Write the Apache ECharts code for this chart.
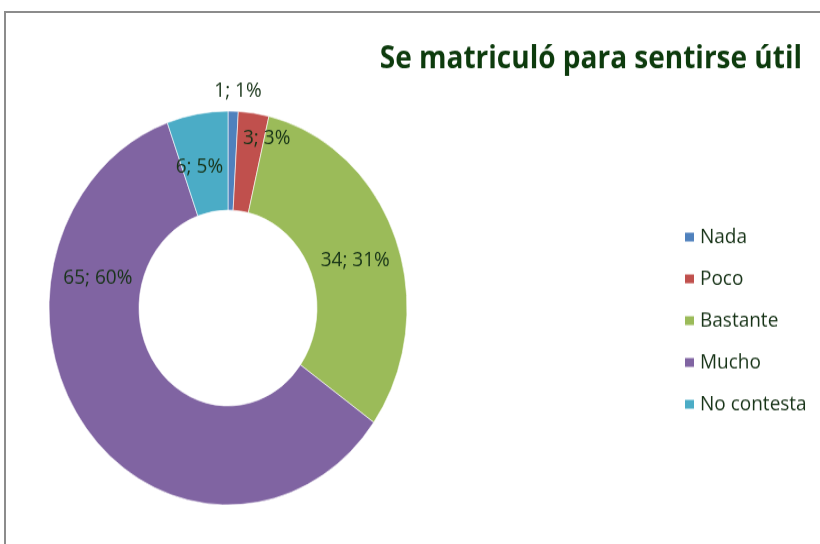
<!DOCTYPE html>
<html>
<head>
<meta charset="utf-8">
<script src="https://cdn.jsdelivr.net/npm/echarts@6/dist/echarts.min.js"></script>
<style>
    html, body { margin: 0; padding: 0; background: #fff; overflow: hidden; }
    #page { position: relative; width: 820px; height: 544px; overflow: hidden; }
    #frame { position: absolute; left: 4px; top: 11px; width: 900px; height: 600px;
             border-left: 2px solid #8c8c8c; border-top: 2px solid #8c8c8c; }
    /* the source picture is stretched vertically, so the chart is drawn flat and scaled */
    #main { position: absolute; left: 0; top: 0; width: 820px; height: 495px;
            transform: scaleY(1.1); transform-origin: 0 0; }
</style>
</head>
<body>
<div id="page">
    <div id="frame"></div>
    <div id="main"></div>
</div>
<script>
    const categories = ['Nada', 'Poco', 'Bastante', 'Mucho', 'No contesta'];
    const counts = [1, 3, 34, 65, 6];
    const colors = ['#4F81BD', '#C0504D', '#9BBB59', '#8064A2', '#4BACC6'];
    // label nudges from the ring midpoint, like Excel's best-fit placement
    const labelShift = [[6, -60], [19, -19], [-1, 5], [-21, -110], [-5, 7]];

    const textColor = '#173317';
    const chart = echarts.init(document.getElementById('main'));

    chart.setOption({
        backgroundColor: 'transparent',
        animation: false,
        title: {
            text: 'Se matriculó para sentirse útil',
            right: 13,
            top: 35,
            textStyle: {
                color: '#0d3b0d',
                fontFamily: 'Open Sans',
                fontWeight: 'bold',
                fontSize: 28
            }
        },
        legend: {
            orient: 'vertical',
            left: 678,
            top: 201,
            itemWidth: 11,
            itemHeight: 10,
            itemGap: 19,
            icon: 'rect',
            textStyle: {
                color: textColor,
                fontFamily: 'Open Sans',
                fontSize: 19,
                lineHeight: 18
            },
            data: categories
        },
        series: [{
            name: 'Se matriculó para sentirse útil',
            type: 'pie',
            center: [228, 280],
            radius: [89, 179],
            startAngle: 90,
            clockwise: true,
            percentPrecision: 0,
            avoidLabelOverlap: false,
            itemStyle: {
                borderColor: '#ffffff',
                borderWidth: 0.6
            },
            label: {
                show: true,
                position: 'inside',
                formatter: '{c}; {d}%',
                color: textColor,
                fontFamily: 'Open Sans',
                fontSize: 19
            },
            labelLine: { show: false },
            labelLayout(params) {
                const s = labelShift[params.dataIndex];
                return { dx: s[0], dy: s[1] };
            },
            emphasis: { disabled: true },
            data: categories.map((name, i) => ({
                name: name,
                value: counts[i],
                itemStyle: { color: colors[i] }
            }))
        }]
    });
</script>
</body>
</html>
